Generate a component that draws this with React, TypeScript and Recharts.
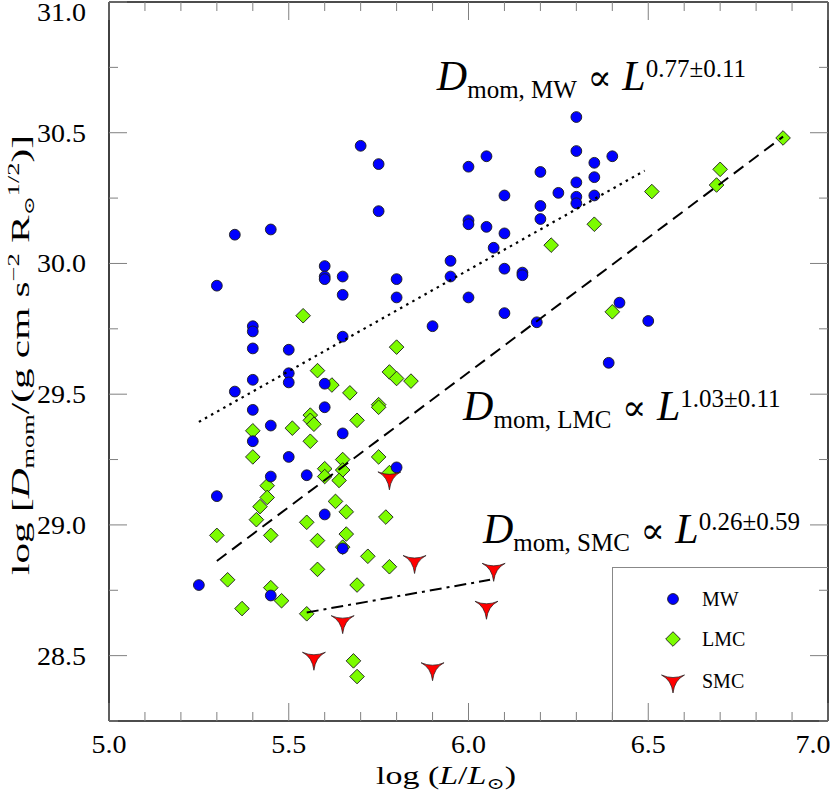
import React from 'react';
import { ScatterChart, Scatter, XAxis, YAxis, Legend, ReferenceDot } from 'recharts';

const FONT = '"Liberation Serif", "Times New Roman", "DejaVu Serif", serif';

const xTicks = [5.0, 5.1, 5.2, 5.3, 5.4, 5.5, 5.6, 5.7, 5.8, 5.9, 6.0, 6.1, 6.2, 6.3, 6.4, 6.5, 6.6, 6.7, 6.8, 6.9, 7.0];
const xTickLabels = [5.0, 5.5, 6.0, 6.5, 7.0];
const yTicks = [28.25, 28.5, 28.75, 29.0, 29.25, 29.5, 29.75, 30.0, 30.25, 30.5, 30.75, 31.0];
const yTickLabels = [28.5, 29.0, 29.5, 30.0, 30.5, 31.0];

const mwPoints: [number, number][] = [
  [5.25, 28.77], [5.30, 29.915], [5.30, 29.11], [5.35, 30.11], [5.35, 29.51],
  [5.40, 29.76], [5.40, 29.74], [5.40, 29.675], [5.40, 29.555], [5.40, 29.44], [5.40, 29.32],
  [5.45, 30.13], [5.45, 29.38], [5.45, 29.185], [5.45, 28.73],
  [5.50, 29.67], [5.50, 29.58], [5.50, 29.545], [5.50, 29.26], [5.55, 29.19],
  [5.60, 29.99], [5.60, 29.95], [5.60, 29.94], [5.60, 29.54], [5.60, 29.45], [5.60, 29.04],
  [5.65, 29.95], [5.65, 29.88], [5.65, 29.72], [5.65, 29.35], [5.65, 28.91],
  [5.70, 30.45], [5.75, 30.38], [5.75, 30.20], [5.80, 29.94], [5.80, 29.87], [5.80, 29.22],
  [5.90, 29.76], [5.95, 30.01], [5.95, 29.95],
  [6.00, 30.37], [6.00, 30.165], [6.00, 30.15], [6.00, 29.87],
  [6.05, 30.41], [6.05, 30.14], [6.07, 30.06],
  [6.10, 30.26], [6.10, 30.115], [6.10, 29.98], [6.10, 29.81], [6.15, 29.965], [6.15, 29.955],
  [6.19, 29.775], [6.20, 30.35], [6.20, 30.22], [6.20, 30.17], [6.25, 30.27],
  [6.30, 30.56], [6.30, 30.43], [6.30, 30.31], [6.30, 30.255], [6.30, 30.23],
  [6.35, 30.385], [6.35, 30.33], [6.35, 30.26],
  [6.39, 29.62], [6.40, 30.41], [6.42, 29.85], [6.50, 29.78],
];

const lmcPoints: [number, number][] = [
  [5.54, 29.80], [5.80, 29.68], [5.58, 29.59], [5.78, 29.585], [5.80, 29.56], [5.84, 29.55],
  [5.62, 29.535], [5.67, 29.505], [5.75, 29.46], [5.75, 29.45],
  [5.56, 29.42], [5.56, 29.40], [5.57, 29.385], [5.69, 29.40], [5.51, 29.37], [5.40, 29.36],
  [5.56, 29.32], [5.40, 29.26], [5.65, 29.25], [5.75, 29.26],
  [5.60, 29.215], [5.65, 29.21], [5.60, 29.185], [5.64, 29.17], [5.78, 29.20],
  [5.44, 29.15], [5.44, 29.105], [5.42, 29.07], [5.63, 29.09], [5.41, 29.02], [5.55, 29.01],
  [5.66, 29.05], [5.77, 29.03], [5.30, 28.96], [5.45, 28.96], [5.58, 28.94], [5.66, 28.965],
  [5.65, 28.915], [5.72, 28.88], [5.78, 28.84], [5.58, 28.83], [5.33, 28.79], [5.45, 28.76],
  [5.69, 28.77], [5.48, 28.71], [5.37, 28.68], [5.55, 28.66], [5.68, 28.48], [5.69, 28.42],
  [6.23, 30.07], [6.35, 30.15], [6.51, 30.275], [6.40, 29.815], [6.70, 30.36], [6.69, 30.30],
  [6.875, 30.48],
];

const smcPoints: [number, number][] = [
  [5.78, 29.18], [5.85, 28.86], [6.07, 28.83], [5.65, 28.63], [6.05, 28.685], [5.57, 28.49], [5.90, 28.45],
];

const mwFit: [number, number][] = [[5.25, 29.394], [6.49, 30.355]];
const lmcFit: [number, number][] = [[5.30, 28.862], [6.875, 30.485]];
const smcFit: [number, number][] = [[5.55, 28.665], [6.06, 28.79]];

const legendItems = ['MW', 'LMC', 'SMC'];

const annotations = [
  { x: 5.912, y: 30.664, sub: 'mom, MW', exp: '0.77±0.11' },
  { x: 5.985, y: 29.40, sub: 'mom, LMC', exp: '1.03±0.11' },
  { x: 6.04, y: 28.932, sub: 'mom, SMC', exp: '0.26±0.59' },
];

const toData = (pts: [number, number][]) => pts.map(([x, y]) => ({ x, y }));

const near = (list: number[], v: number) => list.some((t) => Math.abs(t - v) < 1e-9);
const isMajor = (v: number) => Math.abs(v * 2 - Math.round(v * 2)) < 1e-6;

const TICK_COLOR = '#808080';
const AXIS = { stroke: '#111', strokeWidth: 1.6 };

function BottomTick(props: any) {
  const { x, y, payload } = props;
  const v = payload.value;
  const len = isMajor(v) ? 18 : 9;
  const dx = Math.abs(v - 7) < 1e-9 ? -15 : 0;
  return (
    <g>
      <line x1={x} x2={x} y1={y} y2={y - len} stroke={TICK_COLOR} strokeWidth={1} />
      {near(xTickLabels, v) && (
        <text
          x={x + dx}
          y={y + 32}
          textAnchor="middle"
          fontFamily={FONT}
          fontSize={26}
          fill="#000"
          textLength={35}
          lengthAdjust="spacingAndGlyphs"
        >
          {v.toFixed(1)}
        </text>
      )}
    </g>
  );
}

function TopTick(props: any) {
  const { x, y, payload } = props;
  const len = isMajor(payload.value) ? 18 : 9;
  return <line x1={x} x2={x} y1={y} y2={y + len} stroke={TICK_COLOR} strokeWidth={1} />;
}

function LeftTick(props: any) {
  const { x, y, payload } = props;
  const v = payload.value;
  const len = isMajor(v) ? 18 : 9;
  const dy = Math.abs(v - 31) < 1e-9 ? 10 : 0;
  return (
    <g>
      <line x1={x} x2={x + len} y1={y} y2={y} stroke={TICK_COLOR} strokeWidth={1} />
      {near(yTickLabels, v) && (
        <text
          x={x - 23}
          y={y + 9 + dy}
          textAnchor="end"
          fontFamily={FONT}
          fontSize={26}
          fill="#000"
          textLength={49}
          lengthAdjust="spacingAndGlyphs"
        >
          {v.toFixed(1)}
        </text>
      )}
    </g>
  );
}

function RightTick(props: any) {
  const { x, y, payload } = props;
  const len = isMajor(payload.value) ? 18 : 9;
  return <line x1={x} x2={x - len} y1={y} y2={y} stroke={TICK_COLOR} strokeWidth={1} />;
}

function CircleMark({ cx, cy }: any) {
  return <circle cx={cx} cy={cy} r={5.4} fill="#0000ff" stroke="#1a1a1a" strokeWidth={0.9} />;
}
function DiamondMark({ cx, cy }: any) {
  const s = 7.3;
  return (
    <path
      d={`M${cx},${cy - s}L${cx + s},${cy}L${cx},${cy + s}L${cx - s},${cy}Z`}
      fill="#7cfc00"
      stroke="#1a1a1a"
      strokeWidth={0.9}
    />
  );
}
function ArrowMark({ cx, cy }: any) {
  return (
    <path
      d={`M${cx - 11.5},${cy - 6} Q${cx},${cy - 1} ${cx + 11.5},${cy - 6} Q${cx + 1.5},${cy - 1} ${cx},${cy + 12} Q${cx - 1.5},${cy - 1} ${cx - 11.5},${cy - 6}Z`}
      fill="#ff0000"
      stroke="#1a1a1a"
      strokeWidth={0.7}
    />
  );
}

const markers: Record<string, (p: any) => React.ReactElement> = {
  MW: CircleMark,
  LMC: DiamondMark,
  SMC: ArrowMark,
};

function Annotation({ cx, cy, sub, exp }: any) {
  return (
    <text x={cx} y={cy} fontFamily={FONT} fill="#000">
      <tspan fontSize={42} fontStyle="italic">D</tspan>
      <tspan fontSize={25} dy={8}>{sub}</tspan>
      <tspan fontSize={42} dy={-8}>{' '}</tspan>
      <tspan fontSize={36} fontFamily='"DejaVu Serif", serif' fontWeight={200}>{'\u221D'}</tspan>
      <tspan fontSize={42}>{' '}</tspan>
      <tspan fontSize={42} fontStyle="italic">L</tspan>
      <tspan fontSize={25} dy={-13}>{exp}</tspan>
    </text>
  );
}

function XTitle() {
  return (
    <text
      x={446}
      y={784}
      textAnchor="middle"
      fontFamily={FONT}
      fontSize={25}
      fill="#000"
      textLength={140}
      lengthAdjust="spacingAndGlyphs"
    >
      <tspan>log (</tspan>
      <tspan fontStyle="italic">L</tspan>
      <tspan>/</tspan>
      <tspan fontStyle="italic">L</tspan>
      <tspan fontSize={16} dy={5} fontFamily='"DejaVu Serif", serif'>{'\u2299'}</tspan>
      <tspan dy={-5}>)</tspan>
    </text>
  );
}

function YTitle() {
  const x0 = 29;
  const y0 = 355;
  return (
    <text
      transform={`translate(${x0}, ${y0}) rotate(-90)`}
      textAnchor="middle"
      fontFamily={FONT}
      fontSize={25}
      fill="#000"
      textLength={440}
      lengthAdjust="spacingAndGlyphs"
    >
      <tspan>log [</tspan>
      <tspan fontStyle="italic">D</tspan>
      <tspan fontSize={16} dy={5}>mom</tspan>
      <tspan dy={-5}>/(g cm s</tspan>
      <tspan fontSize={16} dy={-10}>{'\u22122'}</tspan>
      <tspan dy={10}> R</tspan>
      <tspan fontSize={14} dy={5} fontFamily='"DejaVu Serif", serif'>{'\u2299'}</tspan>
      <tspan fontSize={16} dy={-15}>1/2</tspan>
      <tspan dy={10}>)]</tspan>
    </text>
  );
}

function LegendBox() {
  const rows = [32, 72, 114];
  return (
    <div
      style={{
        position: 'relative',
        width: 216,
        height: 154,
        boxSizing: 'border-box',
        borderTop: '1px solid #888',
        borderLeft: '1px solid #888',
      }}
    >
      {legendItems.map((name, i) => {
        const M = markers[name];
        return (
          <React.Fragment key={name}>
            <svg
              width={30}
              height={30}
              style={{ position: 'absolute', left: 61 - 15 - 1, top: rows[i] - 15 - 1, overflow: 'visible' }}
            >
              <M cx={15} cy={15} />
            </svg>
            <span
              style={{
                position: 'absolute',
                left: 89,
                top: rows[i] - 14,
                lineHeight: '26px',
                fontFamily: FONT,
                fontSize: 20,
                color: '#000',
                whiteSpace: 'nowrap',
              }}
            >
              {name}
            </span>
          </React.Fragment>
        );
      })}
    </div>
  );
}

const noShape = () => <g />;

export default function App() {
  return (
    <div style={{ position: 'absolute', left: 0, top: 0, width: 830, height: 796, background: '#fff' }}>
      <ScatterChart width={830} height={796} margin={{ top: 1, right: 1, bottom: 74, left: 108 }}>
        <XAxis
          xAxisId="b"
          type="number"
          dataKey="x"
          domain={[5, 7]}
          ticks={xTicks}
          interval={0}
          orientation="bottom"
          height={1}
          tickSize={0}
          tickMargin={0}
          tickLine={false}
          axisLine={AXIS}
          tick={BottomTick}
          allowDataOverflow
          label={XTitle}
        />
        <XAxis
          xAxisId="t"
          type="number"
          dataKey="x"
          domain={[5, 7]}
          ticks={xTicks}
          interval={0}
          orientation="top"
          height={1}
          tickSize={0}
          tickMargin={0}
          tickLine={false}
          axisLine={AXIS}
          tick={TopTick}
          allowDataOverflow
        />
        <YAxis
          yAxisId="l"
          type="number"
          dataKey="y"
          domain={[28.25, 31]}
          ticks={yTicks}
          interval={0}
          orientation="left"
          width={1}
          tickSize={0}
          tickMargin={0}
          tickLine={false}
          axisLine={AXIS}
          tick={LeftTick}
          allowDataOverflow
          label={YTitle}
        />
        <YAxis
          yAxisId="r"
          type="number"
          dataKey="y"
          domain={[28.25, 31]}
          ticks={yTicks}
          interval={0}
          orientation="right"
          width={1}
          tickSize={0}
          tickMargin={0}
          tickLine={false}
          axisLine={AXIS}
          tick={RightTick}
          allowDataOverflow
        />
        <Scatter
          name="LMC"
          xAxisId="b"
          yAxisId="l"
          data={toData(lmcPoints)}
          shape={(p: any) => <DiamondMark cx={p.cx} cy={p.cy} />}
          isAnimationActive={false}
        />
        <Scatter
          name="SMC"
          xAxisId="b"
          yAxisId="l"
          data={toData(smcPoints)}
          shape={(p: any) => <ArrowMark cx={p.cx} cy={p.cy} />}
          isAnimationActive={false}
        />
        <Scatter
          name="MW"
          xAxisId="b"
          yAxisId="l"
          data={toData(mwPoints)}
          shape={(p: any) => <CircleMark cx={p.cx} cy={p.cy} />}
          isAnimationActive={false}
        />
        <Scatter
          name="MW fit"
          xAxisId="b"
          yAxisId="l"
          data={toData(mwFit)}
          line={{ stroke: '#000', strokeWidth: 2.2, strokeDasharray: '2.5 4.5' }}
          shape={noShape}
          legendType="none"
          isAnimationActive={false}
        />
        <Scatter
          name="LMC fit"
          xAxisId="b"
          yAxisId="l"
          data={toData(lmcFit)}
          line={{ stroke: '#000', strokeWidth: 2, strokeDasharray: '12 7' }}
          shape={noShape}
          legendType="none"
          isAnimationActive={false}
        />
        <Scatter
          name="SMC fit"
          xAxisId="b"
          yAxisId="l"
          data={toData(smcFit)}
          line={{ stroke: '#000', strokeWidth: 2, strokeDasharray: '12 5 3 5' }}
          shape={noShape}
          legendType="none"
          isAnimationActive={false}
        />
        {annotations.map((a) => (
          <ReferenceDot
            key={a.sub}
            xAxisId="b"
            yAxisId="l"
            x={a.x}
            y={a.y}
            r={0}
            ifOverflow="visible"
            shape={(p: any) => <Annotation cx={p.cx} cy={p.cy} sub={a.sub} exp={a.exp} />}
          />
        ))}
        <Legend
          layout="vertical"
          align="center"
          verticalAlign="middle"
          content={LegendBox}
          wrapperStyle={{ left: 612, top: 567, width: 216, height: 154 }}
        />
      </ScatterChart>
    </div>
  );
}
